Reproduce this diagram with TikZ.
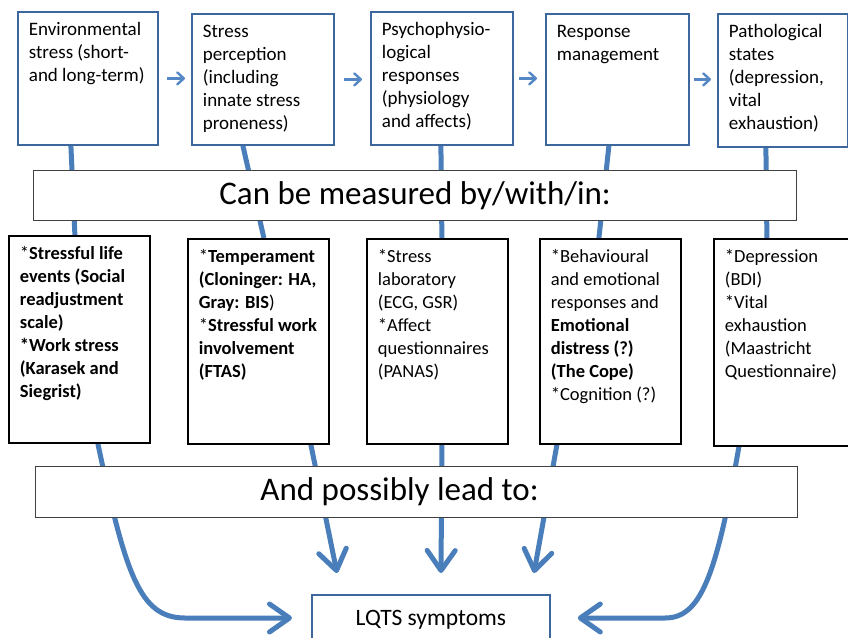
\documentclass[tikz,border=0pt]{standalone}
\usepackage{fontspec}
\setmainfont{Carlito}
\usetikzlibrary{arrows.meta}
\definecolor{lineblue}{RGB}{74,126,187}
\definecolor{boxblue}{RGB}{60,104,158}
\definecolor{arrowblue}{RGB}{84,135,196}
\newcommand\boxtxt[3]{\parbox[c][#2][t]{#1}{\noindent\begin{tabular}[t]{@{}l@{}}#3\end{tabular}}}
\pgfdeclarelayer{bgfill}
\pgfdeclarelayer{conn}
\pgfsetlayers{bgfill,conn,main}
\begin{document}
\begin{tikzpicture}[x=1pt,y=-1pt,
  topbox/.style={draw=boxblue,line width=1.8pt,fill=white,anchor=north west,inner xsep=11pt,inner ysep=7pt,font=\fontsize{19}{23}\selectfont},
  measbox/.style={draw=black,line width=1.8pt,fill=white,anchor=north west,inner xsep=11pt,inner ysep=7.5pt,font=\fontsize{18.5}{23}\selectfont},
  banner/.style={draw=black!75,line width=1.2pt,fill=white,anchor=north west,inner sep=0pt,font=\fontsize{33}{40}\selectfont},
  resultbox/.style={draw=boxblue,line width=1.8pt,fill=white,anchor=north west,inner xsep=0pt,inner ysep=12pt,font=\fontsize{23.5}{27}\selectfont},
  conn/.style={draw=lineblue,line width=5pt},
  bigarrow/.style={conn,-{Straight Barb[length=20pt,width=28pt,line cap=round,line join=round]}},
  smallarrow/.style={draw=arrowblue,line width=2.4pt,-{Straight Barb[length=6.5pt,width=12pt,line cap=round,line join=round]}}]
\useasboundingbox (0,0) rectangle (848,637);
\clip (0,0) rectangle (848,637);
\begin{pgfonlayer}{bgfill}
\fill[white] (0,0) rectangle (848,637);
\end{pgfonlayer}

% top row
\node[topbox] (T1) at (17,11) {\boxtxt{118pt}{119pt}{Environmental\\stress (short-\\and long-term)}};
\node[topbox] (T2) at (191,13) {\boxtxt{120pt}{117pt}{Stress\\perception\\(including\\innate stress\\proneness)}};
\node[topbox] (T3) at (370,11) {\boxtxt{120pt}{119pt}{Psychophysio-\\logical\\responses\\(physiology\\and affects)}};
\node[topbox] (T4) at (545,13) {\boxtxt{121pt}{117pt}{Response\\management}};
\node[topbox] (T5) at (717,13) {\boxtxt{108pt}{119pt}{Pathological\\states\\(depression,\\vital\\exhaustion)}};

% banners
\node[banner,minimum width=763pt,minimum height=50pt] (M) at (33,170) {Can be measured by/with/in:};
\node[banner,minimum width=762pt,minimum height=51pt] (P) at (35,466) {\hspace*{-34pt}And possibly lead to:};

% measure row
\node[measbox] (B1) at (8,235) {\boxtxt{119pt}{192pt}{*\textbf{Stressful life}\\\textbf{events (Social}\\\textbf{readjustment}\\\textbf{scale)}\\\textbf{*Work stress}\\\textbf{(Karasek and}\\\textbf{Siegrist)}}};
\node[measbox] (B2) at (187,238) {\boxtxt{119pt}{190pt}{*\textbf{Temperament}\\\textbf{(Cloninger: HA,}\\\textbf{Gray: BIS})\\{*}\textbf{Stressful work}\\\textbf{involvement}\\\textbf{(FTAS)}}};
\node[measbox] (B3) at (366,238) {\boxtxt{119pt}{190pt}{*Stress\\laboratory\\(ECG, GSR)\\{*}Affect\\questionnaires\\(PANAS)}};
\node[measbox] (B4) at (539,238) {\boxtxt{119pt}{190pt}{*Behavioural\\and emotional\\responses and\\\textbf{Emotional}\\\textbf{distress (?)}\\\textbf{(The Cope)}\\{*}Cognition (?)}};
\node[measbox] (B5) at (713,238) {\boxtxt{119pt}{192pt}{*Depression\\(BDI)\\{*}Vital\\exhaustion\\(Maastricht\\Questionnaire)}};

% result
\node[resultbox] (Q) at (311,594) {\parbox[c][20pt][t]{238pt}{\centering\strut LQTS symptoms}};

\coordinate (e2) at (337,573);
\coordinate (e3) at (441,573);
\coordinate (e4) at (534,573);

% small arrows
\draw[smallarrow,shorten <=8pt,shorten >=6pt] (T1.east) -- (T1.east -| T2.west);
\draw[smallarrow,shorten <=9pt,shorten >=8pt] (T2.east) -- (T2.east -| T3.west);
\draw[smallarrow,shorten <=5pt,shorten >=8pt] (T3.east) -- (T3.east -| T4.west);
\draw[smallarrow,shorten <=4pt,shorten >=6pt] (T4.east) -- (T4.east -| T5.west);

\begin{pgfonlayer}{conn}
\draw[conn] ([xshift=-17pt]T1.south) -- ([xshift=-4.5pt]B1.north);
\draw[conn] ([xshift=-20pt]T2.south) -- ([xshift=5.5pt]B2.north);
\draw[conn] ([xshift=-1pt]T3.south) -- ([xshift=4.5pt]B3.north);
\draw[conn] ([xshift=-8.5pt]T4.south) -- ([xshift=-11.5pt]B4.north);
\draw[conn] ([xshift=-17pt]T5.south) -- ([xshift=-17.5pt]B5.north);

\draw[bigarrow] ([xshift=18.5pt]B1.south) .. controls +(28,132) and +(-45,0) .. (185,618) -- ([xshift=-19pt]Q.west |- 0,618);
\draw[bigarrow] ([xshift=52.5pt]B2.south) -- (e2);
\draw[bigarrow] ([xshift=4.5pt]B3.south) -- (e3);
\draw[bigarrow] ([xshift=-53.5pt]B4.south) -- (e4);
\draw[bigarrow] ([xshift=-45.5pt]B5.south) .. controls +(-23,132) and +(35,0) .. (665,618) -- ([xshift=27pt]Q.east |- 0,618);
\end{pgfonlayer}
\end{tikzpicture}
\end{document}
